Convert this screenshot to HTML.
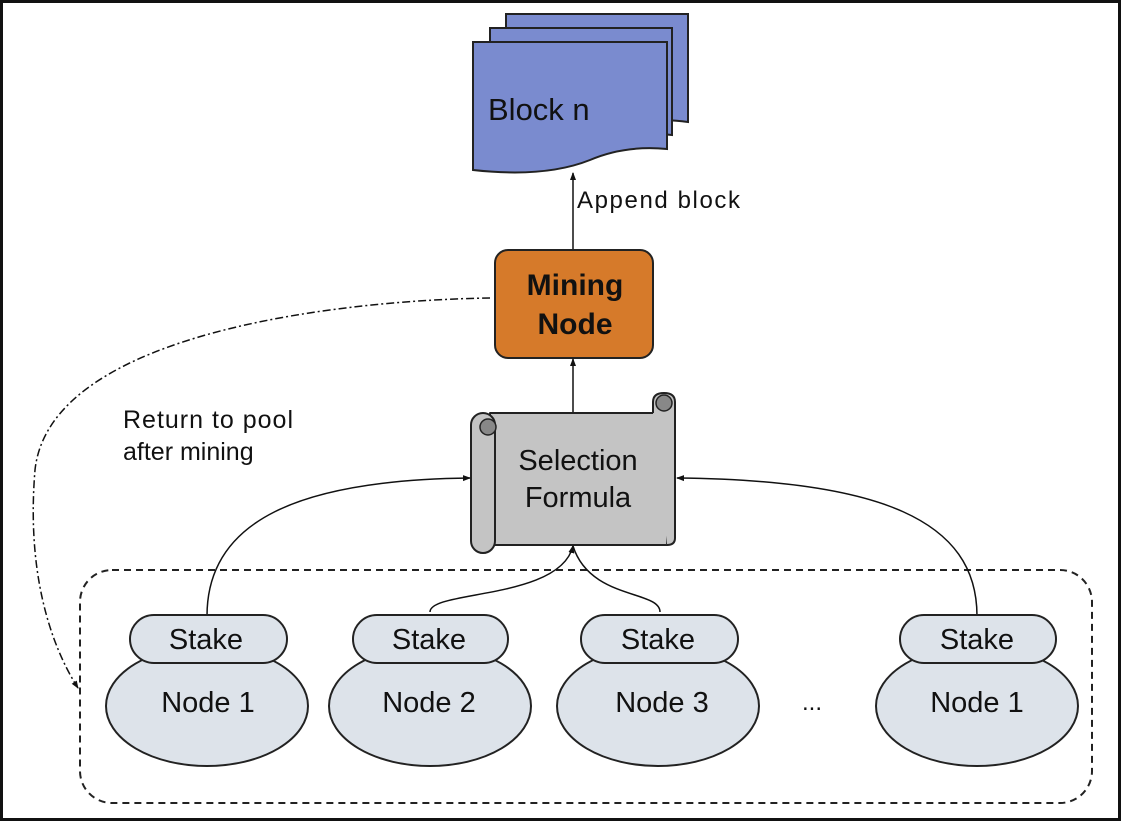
<!DOCTYPE html>
<html><head><style>body{margin:0;background:#fff}svg{display:block}text{font-family:"Liberation Sans",sans-serif;fill:#111}</style></head><body>
<svg width="1122" height="822" viewBox="0 0 1122 822">
<defs><marker id="a" markerWidth="8" markerHeight="8" refX="7" refY="4" orient="auto" markerUnits="userSpaceOnUse"><path d="M0,1 L8,4 L0,7 z" fill="#111"/></marker></defs>
<rect x="1.5" y="1.5" width="1118" height="818" fill="#fff" stroke="#111" stroke-width="3"/>
<!-- blocks -->
<path d="M506,14 H688 V122 Q660,118 650,123 L650,125 H506 Z" fill="#7a8bcf" stroke="#222" stroke-width="2"/>
<path d="M490,28 H672 V135 Q645,132 640,136 H490 Z" fill="#7a8bcf" stroke="#222" stroke-width="2"/>
<path d="M473,42 H667 V149 Q625,145 590,160 Q545,178 473,170 Z" fill="#7a8bcf" stroke="#222" stroke-width="2"/>
<text x="488" y="120" font-size="31">Block n</text>
<line x1="573" y1="250" x2="573" y2="173" stroke="#111" stroke-width="1.5" marker-end="url(#a)"/>
<text x="577" y="208" font-size="24" textLength="163">Append block</text>
<rect x="495" y="250" width="158" height="108" rx="13" fill="#d67a2a" stroke="#222" stroke-width="2"/>
<text x="575" y="295" font-size="30" font-weight="bold" text-anchor="middle">Mining</text>
<text x="575" y="334" font-size="30" font-weight="bold" text-anchor="middle">Node</text>
<line x1="573" y1="412" x2="573" y2="359" stroke="#111" stroke-width="1.5" marker-end="url(#a)"/>
<!-- scroll -->
<path d="M490,413 H667 V545 H490 Z" fill="#c4c4c4" stroke="#222" stroke-width="2" stroke-linejoin="round"/>
<path d="M653,413 V402 Q653,393 664,393 Q675,393 675,402 V538 Q675,545 667,545" fill="#c4c4c4" stroke="#222" stroke-width="2"/>
<circle cx="664" cy="403" r="8" fill="#888" stroke="#222" stroke-width="1.5"/>
<rect x="471" y="413" width="24" height="140" rx="12" fill="#c4c4c4" stroke="#222" stroke-width="2"/>
<circle cx="488" cy="427" r="8" fill="#888" stroke="#222" stroke-width="1.5"/>
<text x="578" y="470" font-size="29" text-anchor="middle">Selection</text>
<text x="578" y="507" font-size="29" text-anchor="middle">Formula</text>
<!-- dashed pool -->
<rect x="80" y="570" width="1012" height="233" rx="32" fill="none" stroke="#222" stroke-width="2" stroke-dasharray="7,5"/>
<!-- connectors -->
<path d="M207,616 C207,520 300,480 470,478" fill="none" stroke="#111" stroke-width="1.5" marker-end="url(#a)"/>
<path d="M977,616 C977,520 880,480 677,478" fill="none" stroke="#111" stroke-width="1.5" marker-end="url(#a)"/>
<path d="M430,612 C430,590 560,600 573,546" fill="none" stroke="#111" stroke-width="1.5" marker-end="url(#a)"/>
<path d="M660,612 C660,590 590,600 573,546" fill="none" stroke="#111" stroke-width="1.5"/>
<path d="M490,298 C350,300 50,330 35,470 C25,590 60,660 78,688" fill="none" stroke="#111" stroke-width="1.5" stroke-dasharray="8,3,2,3" marker-end="url(#a)"/>
<text x="123" y="428" font-size="25" textLength="170">Return to pool</text>
<text x="123" y="460" font-size="25">after mining</text>
<!-- nodes -->
<g stroke="#222" stroke-width="2" fill="#dde3ea">
<ellipse cx="207" cy="706" rx="101" ry="60"/><rect x="130" y="615" width="157" height="48" rx="24"/>
<ellipse cx="430" cy="706" rx="101" ry="60"/><rect x="353" y="615" width="155" height="48" rx="24"/>
<ellipse cx="658" cy="706" rx="101" ry="60"/><rect x="581" y="615" width="157" height="48" rx="24"/>
<ellipse cx="977" cy="706" rx="101" ry="60"/><rect x="900" y="615" width="156" height="48" rx="24"/>
</g>
<g font-size="29" text-anchor="middle">
<text x="206" y="649">Stake</text><text x="429" y="649">Stake</text><text x="658" y="649">Stake</text><text x="977" y="649">Stake</text>
<text x="208" y="712">Node 1</text><text x="429" y="712">Node 2</text><text x="662" y="712">Node 3</text><text x="977" y="712">Node 1</text>
<text x="812" y="710" font-size="24">...</text>
</g>
</svg>
</body></html>
